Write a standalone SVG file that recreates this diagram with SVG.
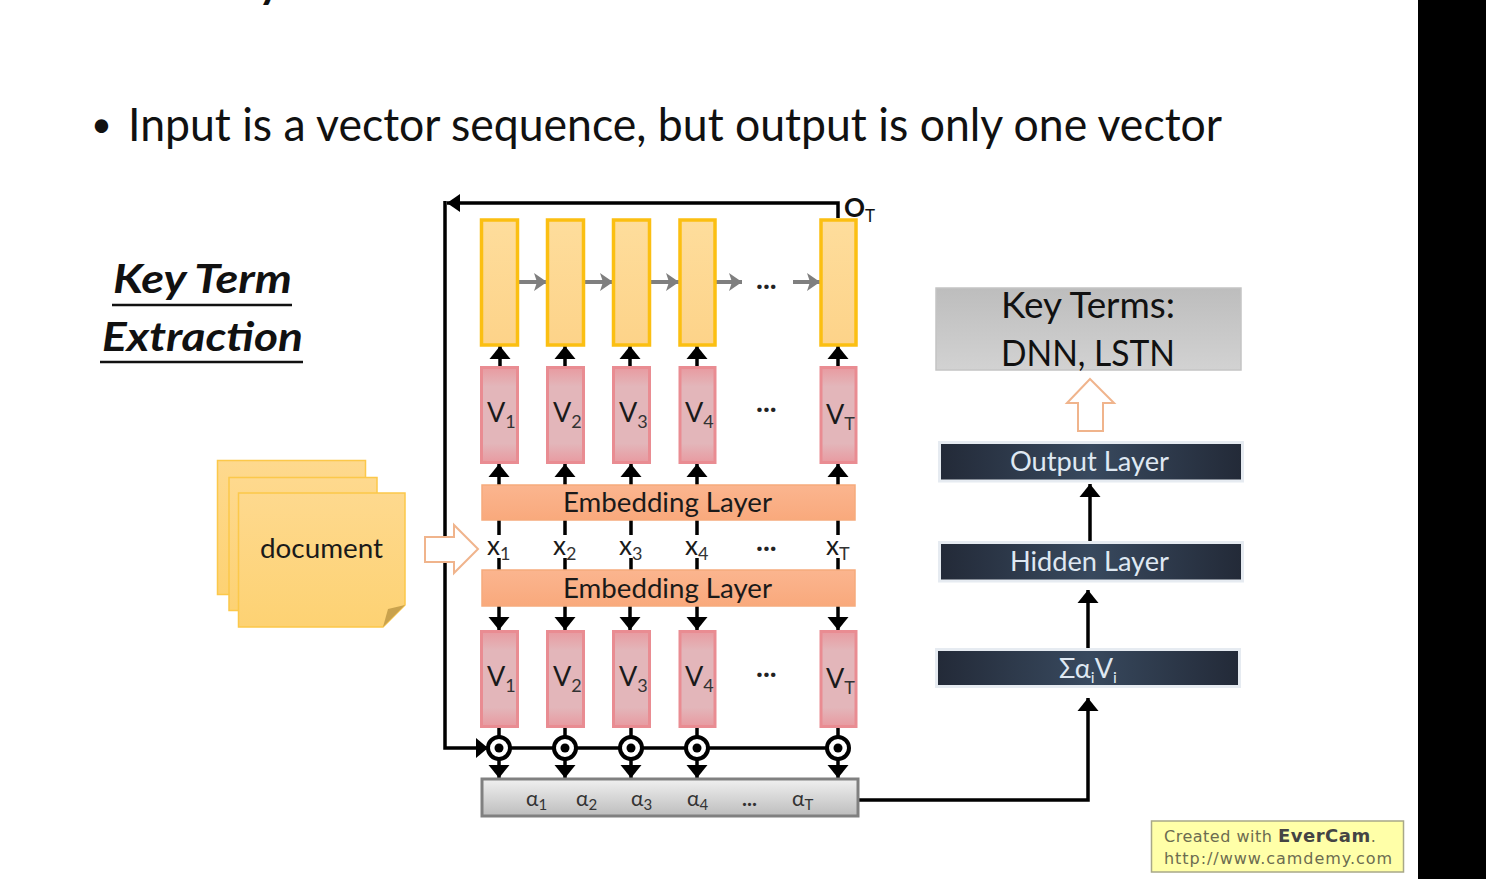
<svg xmlns="http://www.w3.org/2000/svg" width="1486" height="879" viewBox="0 0 1486 879">
<style>
text{font-family:"Lato","Open Sans","Liberation Sans",sans-serif;fill:#1a1a1a}
.rnn{fill:url(#yg);stroke:#fbbf12;stroke-width:3.5}
.v{fill:url(#rg);stroke:#e98c92;stroke-width:3}
.emb{fill:url(#og);stroke:#f6ab7c;stroke-width:1.5}
.dark{fill:url(#dg);stroke:#e6ebf1;stroke-width:6;paint-order:stroke}
.sheet{fill:url(#sg);stroke:#fcc84a;stroke-width:1.5}
.hollow{fill:#fff;stroke:#f0b48c;stroke-width:2}
.blk{fill:none;stroke:#000;stroke-width:3.5}
.gry{fill:none;stroke:#7f7f7f;stroke-width:4}
.vl{font-size:27px}
.sub{font-size:18px;fill:#333}
.xl{font-size:26px}
.al{font-size:21px;fill:#333}
.dots{font-size:29px;font-weight:700;fill:#222}
.lay{font-size:27px;fill:#dfe8f2}
.ring{fill:#fff;stroke:#000;stroke-width:4}
.wm{font-family:"DejaVu Sans",sans-serif;font-size:16px;fill:#6c6c50}
</style>
<defs>
<linearGradient id="yg" x1="0" y1="0" x2="0" y2="1"><stop offset="0" stop-color="#fedd9c"/><stop offset="1" stop-color="#fdd389"/></linearGradient>
<linearGradient id="rg" x1="0" y1="0" x2="0" y2="1"><stop offset="0" stop-color="#e89aa0"/><stop offset=".2" stop-color="#e3b6ba"/><stop offset=".8" stop-color="#e3b6ba"/><stop offset="1" stop-color="#e89aa0"/></linearGradient>
<linearGradient id="og" x1="0" y1="0" x2="0" y2="1"><stop offset="0" stop-color="#fbb58f"/><stop offset="1" stop-color="#f9a97c"/></linearGradient>
<linearGradient id="dg" x1="0" y1="0" x2="1" y2="0"><stop offset="0" stop-color="#232a38"/><stop offset=".5" stop-color="#38495e"/><stop offset="1" stop-color="#232a38"/></linearGradient>
<linearGradient id="sg" x1="0" y1="0" x2="0" y2="1"><stop offset="0" stop-color="#fed98e"/><stop offset="1" stop-color="#fdd273"/></linearGradient>
<linearGradient id="gg" x1="0" y1="0" x2="0" y2="1"><stop offset="0" stop-color="#bdbdbd"/><stop offset="1" stop-color="#d2d2d2"/></linearGradient>
<linearGradient id="ag" x1="0" y1="0" x2="0" y2="1"><stop offset="0" stop-color="#f0f0f0"/><stop offset="1" stop-color="#bdbdbd"/></linearGradient>
<marker id="ah" markerUnits="userSpaceOnUse" markerWidth="22" markerHeight="22" refX="13" refY="11" orient="auto"><path d="M0 0.500 L13 11 L0 21.500 Z" fill="#000"/></marker>
<marker id="gh" markerUnits="userSpaceOnUse" markerWidth="18" markerHeight="20" refX="14" refY="10" orient="auto"><path d="M1 1 L14 10 L1 19 L4 10 Z" fill="#7f7f7f"/></marker>
</defs>
<rect width="1486" height="879" fill="#fff"/>
<rect x="1418" y="0" width="68" height="879" fill="#000"/>
<text x="258" y="-2" font-size="44" font-weight="700" style="fill:#111">y</text>
<text x="91" y="137" font-size="36" style="fill:#111">•</text>
<text x="128" y="141" font-size="46" textLength="1094" lengthAdjust="spacingAndGlyphs" style="fill:#111">Input is a vector sequence, but output is only one vector</text>
<g id="title"><text x="113" y="293" font-size="41" font-weight="700" font-style="italic" textLength="179" lengthAdjust="spacingAndGlyphs" style="fill:#111">Key Term</text><line x1="112" y1="305" x2="292" y2="305" stroke="#111" stroke-width="2.5"/><text x="102" y="351" font-size="41" font-weight="700" font-style="italic" textLength="201" lengthAdjust="spacingAndGlyphs" style="fill:#111">Extraction</text><line x1="100" y1="362" x2="303" y2="362" stroke="#111" stroke-width="2.5"/></g>

<g id="connectors">
<path class="blk" d="M838 218V203H447"/>
<path class="blk" d="M445 201V748H486" />
<path d="M447 203L460 194V212Z" fill="#000"/>
<path d="M476 738L488 748L476 758Z" fill="#000"/>
<path class="blk" d="M486 748H838"/>
<path class="blk" d="M859 800H1088V698" marker-end="url(#ah)"/>
<path class="blk" d="M1088 651V590" marker-end="url(#ah)"/>
<path class="blk" d="M1090 541V484" marker-end="url(#ah)"/>
<path class="gry" d="M519 282H547" marker-end="url(#gh)"/><path class="gry" d="M585 282H613" marker-end="url(#gh)"/><path class="gry" d="M651 282H679" marker-end="url(#gh)"/><path class="gry" d="M716 282H742" marker-end="url(#gh)"/><path class="gry" d="M793 282H820" marker-end="url(#gh)"/>
<path class="blk" d="M500 367V346" marker-end="url(#ah)"/><path class="blk" d="M565 367V346" marker-end="url(#ah)"/><path class="blk" d="M630 367V346" marker-end="url(#ah)"/><path class="blk" d="M697 367V346" marker-end="url(#ah)"/><path class="blk" d="M838 367V346" marker-end="url(#ah)"/>
<path class="blk" d="M499 485V464" marker-end="url(#ah)"/><path class="blk" d="M565 485V464" marker-end="url(#ah)"/><path class="blk" d="M631 485V464" marker-end="url(#ah)"/><path class="blk" d="M697 485V464" marker-end="url(#ah)"/><path class="blk" d="M838 485V464" marker-end="url(#ah)"/>
<path class="blk" d="M499 520V535M565 520V535M631 520V535M697 520V535M838 520V535"/>
<path class="blk" d="M499 558V570M565 558V570M631 558V570M697 558V570M838 558V570"/>
<path class="blk" d="M499 606V630" marker-end="url(#ah)"/><path class="blk" d="M565 606V630" marker-end="url(#ah)"/><path class="blk" d="M630 606V630" marker-end="url(#ah)"/><path class="blk" d="M697 606V630" marker-end="url(#ah)"/><path class="blk" d="M838 606V630" marker-end="url(#ah)"/>
<path class="blk" d="M499 728V738M565 728V738M631 728V738M697 728V738M838 728V738"/>
<path class="blk" d="M499 758V778" marker-end="url(#ah)"/><path class="blk" d="M565 758V778" marker-end="url(#ah)"/><path class="blk" d="M631 758V778" marker-end="url(#ah)"/><path class="blk" d="M697 758V778" marker-end="url(#ah)"/><path class="blk" d="M838 758V778" marker-end="url(#ah)"/>
</g>

<g id="rnn-cells">
<rect class="rnn" x="481.500" y="220" width="36" height="125"/><rect class="rnn" x="547.500" y="220" width="36" height="125"/><rect class="rnn" x="613.500" y="220" width="36" height="125"/><rect class="rnn" x="680" y="220" width="35" height="125"/><rect class="rnn" x="821" y="220" width="35" height="125"/>
</g>
<g id="v-upper">
<rect class="v" x="481.500" y="367.500" width="36" height="95"/><rect class="v" x="547.500" y="367.500" width="36" height="95"/><rect class="v" x="613.500" y="367.500" width="36" height="95"/><rect class="v" x="680" y="367.500" width="35" height="95"/><rect class="v" x="821" y="367.500" width="35" height="95"/>
<text class="vl" x="487" y="422">V<tspan class="sub" dy="6">1</tspan></text><text class="vl" x="553" y="422">V<tspan class="sub" dy="6">2</tspan></text><text class="vl" x="619" y="422">V<tspan class="sub" dy="6">3</tspan></text><text class="vl" x="685" y="422">V<tspan class="sub" dy="6">4</tspan></text><text class="vl" x="826" y="424">V<tspan class="sub" dy="6">T</tspan></text>
</g>
<g id="v-lower">
<rect class="v" x="481.500" y="631.500" width="36" height="95"/><rect class="v" x="547.500" y="631.500" width="36" height="95"/><rect class="v" x="613.500" y="631.500" width="36" height="95"/><rect class="v" x="680" y="631.500" width="35" height="95"/><rect class="v" x="821" y="631.500" width="35" height="95"/>
<text class="vl" x="487" y="686">V<tspan class="sub" dy="6">1</tspan></text><text class="vl" x="553" y="686">V<tspan class="sub" dy="6">2</tspan></text><text class="vl" x="619" y="686">V<tspan class="sub" dy="6">3</tspan></text><text class="vl" x="685" y="686">V<tspan class="sub" dy="6">4</tspan></text><text class="vl" x="826" y="688">V<tspan class="sub" dy="6">T</tspan></text>
</g>
<g id="embedding-upper"><rect class="emb" x="482" y="485" width="373" height="35"/><text x="563" y="512" font-size="26" textLength="209" lengthAdjust="spacingAndGlyphs">Embedding Layer</text></g>
<g id="embedding-lower"><rect class="emb" x="482" y="570" width="373" height="36"/><text x="563" y="598" font-size="26" textLength="209" lengthAdjust="spacingAndGlyphs">Embedding Layer</text></g>
<g id="x-labels">
<text class="xl" x="487" y="555">x<tspan class="sub" dy="5">1</tspan></text><text class="xl" x="553" y="555">x<tspan class="sub" dy="5">2</tspan></text><text class="xl" x="619" y="555">x<tspan class="sub" dy="5">3</tspan></text><text class="xl" x="685" y="555">x<tspan class="sub" dy="5">4</tspan></text><text class="xl" x="826" y="555">x<tspan class="sub" dy="5">T</tspan></text>
</g>
<g id="dots">
<text class="dots" x="756" y="289">...</text><text class="dots" x="756" y="412">...</text><text class="dots" x="756" y="551">...</text><text class="dots" x="756" y="677">...</text>
</g>
<g id="dot-products">
<circle class="ring" cx="499" cy="748" r="11"/><circle cx="499" cy="748" r="4.500"/>
<circle class="ring" cx="565" cy="748" r="11"/><circle cx="565" cy="748" r="4.500"/>
<circle class="ring" cx="631" cy="748" r="11"/><circle cx="631" cy="748" r="4.500"/>
<circle class="ring" cx="697" cy="748" r="11"/><circle cx="697" cy="748" r="4.500"/>
<circle class="ring" cx="838" cy="748" r="11"/><circle cx="838" cy="748" r="4.500"/>
</g>
<g id="alpha-bar">
<rect x="482" y="779" width="376" height="37" fill="url(#ag)" stroke="#808080" stroke-width="3"/>
<text class="al" x="526" y="806">α<tspan font-size="15" dy="4">1</tspan></text><text class="al" x="576" y="806">α<tspan font-size="15" dy="4">2</tspan></text><text class="al" x="631" y="806">α<tspan font-size="15" dy="4">3</tspan></text><text class="al" x="687" y="806">α<tspan font-size="15" dy="4">4</tspan></text><text class="al" x="742" y="806" font-weight="700">...</text><text class="al" x="792" y="806">α<tspan font-size="15" dy="4">T</tspan></text>
</g>
<g id="ot"><text x="844" y="217" font-size="26" font-weight="700" style="fill:#111">O<tspan font-size="17" font-weight="400" dy="5">T</tspan></text></g>

<g id="document">
<rect class="sheet" x="217.500" y="460.500" width="148" height="134"/>
<rect class="sheet" x="229" y="477.500" width="148" height="133"/>
<path class="sheet" d="M238.500 493H405V605L383 627H238.500Z"/>
<path d="M405 605L383 627L388 609Z" fill="#c9a24d"/>
<text x="260" y="558" font-size="27" textLength="123" lengthAdjust="spacingAndGlyphs">document</text>
</g>
<path id="input-arrow" class="hollow" d="M425 537H454V525L478 549L454 573V562H425Z"/>

<g id="key-terms"><rect x="936" y="288" width="305" height="82" fill="url(#gg)" stroke="#c4c4c4" stroke-width="1.500"/>
<text x="1001" y="318" font-size="37" textLength="174" lengthAdjust="spacingAndGlyphs" style="fill:#111">Key Terms:</text>
<text x="1001" y="366" font-size="37" textLength="174" lengthAdjust="spacingAndGlyphs" style="fill:#111">DNN, LSTN</text></g>
<path id="output-arrow" class="hollow" d="M1090 379L1114 403H1103V431H1078V403H1067Z"/>
<g id="output-layer"><rect class="dark" x="941" y="444" width="300" height="35.500"/><text class="lay" x="1010" y="471" textLength="159" lengthAdjust="spacingAndGlyphs">Output Layer</text></g>
<g id="hidden-layer"><rect class="dark" x="941" y="544" width="300" height="35.500"/><text class="lay" x="1010" y="571" textLength="159" lengthAdjust="spacingAndGlyphs">Hidden Layer</text></g>
<g id="sum"><rect class="dark" x="938" y="651" width="300" height="34"/><text class="lay" x="1059" y="678">Σα<tspan font-size="16" dy="5">i</tspan><tspan dy="-5">V</tspan><tspan font-size="16" dy="5">i</tspan></text></g>

<g id="watermark"><rect x="1151.500" y="821" width="252" height="51" fill="#ffffa8" stroke="#a8a888" stroke-width="1.500"/>
<text class="wm" x="1164" y="842" letter-spacing=".5">Created with <tspan font-weight="700" font-size="18" style="fill:#444">EverCam</tspan>.</text>
<text class="wm" x="1164" y="864" textLength="228">http://www.camdemy.com</text></g>
</svg>
